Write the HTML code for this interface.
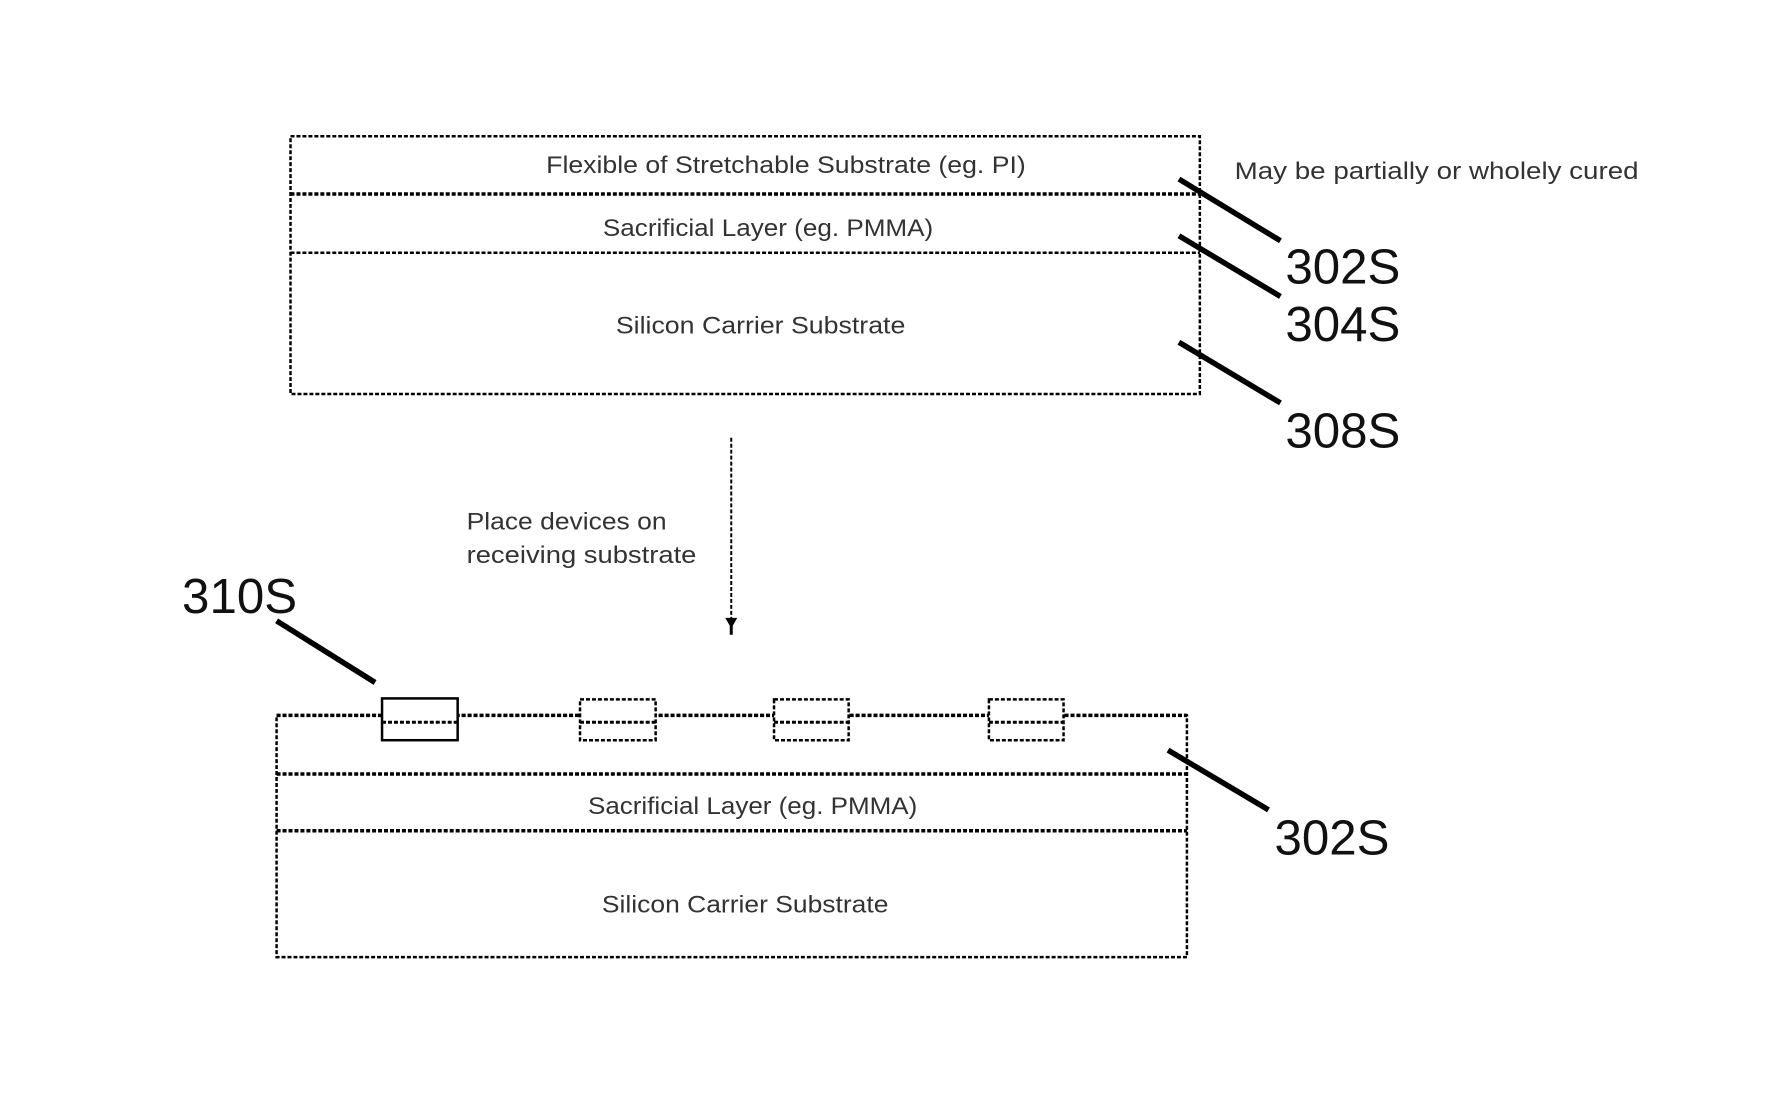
<!DOCTYPE html>
<html><head><meta charset="utf-8"><style>
html,body{margin:0;padding:0;background:#fff}
svg{display:block}
text{font-family:"Liberation Sans",sans-serif;fill:#000}
.t{font-size:24px;fill:#333}
.n{font-size:49.5px;fill:#111}
.d{fill:none;stroke:#000;stroke-width:2.5;stroke-dasharray:4 2}
.l{stroke:#000;stroke-width:5.5;fill:none}
</style></head><body>
<svg width="1784" height="1097" viewBox="0 0 1784 1097" xmlns="http://www.w3.org/2000/svg">
<rect width="1784" height="1097" fill="#fff"/>
<g transform="scale(0.9949)">
<rect class="d" x="292" y="137" width="914" height="259"/>
<path class="d" style="stroke-width:3.5" d="M292 195H1206"/>
<path class="d" d="M292 254H1206"/>
<text class="t" x="549" y="174" textLength="482" lengthAdjust="spacingAndGlyphs">Flexible of Stretchable Substrate (eg. PI)</text>
<text class="t" x="606" y="237" textLength="332" lengthAdjust="spacingAndGlyphs">Sacrificial Layer (eg. PMMA)</text>
<text class="t" x="619" y="335" textLength="291" lengthAdjust="spacingAndGlyphs">Silicon Carrier Substrate</text>
<text class="t" x="1241" y="180" textLength="406" lengthAdjust="spacingAndGlyphs">May be partially or wholely cured</text>
<path class="l" d="M1185 180L1287 242M1185 237L1287 298M1185 344L1287 405M278 624L377 686M1174 754L1275 814"/>
<text class="n" x="1292" y="285">302S</text>
<text class="n" x="1292" y="343">304S</text>
<text class="n" x="1292" y="450">308S</text>
<text class="n" x="183" y="616">310S</text>
<text class="n" x="1281" y="859">302S</text>
<path class="d" style="stroke-width:2" d="M735 440V622"/>
<path d="M729 621L741 621L736.5 629L736.5 638L733.5 638L733.5 629Z" fill="#000"/>
<text class="t" x="469" y="532" textLength="201" lengthAdjust="spacingAndGlyphs">Place devices on</text>
<text class="t" x="469" y="566" textLength="231" lengthAdjust="spacingAndGlyphs">receiving substrate</text>
<rect class="d" x="278" y="719" width="915" height="243"/>
<path class="d" style="stroke-width:3.5" d="M278 719H1193"/>
<path class="d" style="stroke-width:3.5" d="M278 778H1193"/>
<path class="d" style="stroke-width:3.5" d="M278 835H1193"/>
<text class="t" x="591" y="818" textLength="331" lengthAdjust="spacingAndGlyphs">Sacrificial Layer (eg. PMMA)</text>
<text class="t" x="605" y="917" textLength="288" lengthAdjust="spacingAndGlyphs">Silicon Carrier Substrate</text>
<rect class="d" style="fill:#fff;stroke-dasharray:none" x="384" y="702" width="76" height="42"/><path class="d" style="stroke-width:3" d="M384 726H460"/>
<rect class="d" style="fill:#fff" x="583" y="703" width="76" height="41"/><path class="d" style="stroke-width:3" d="M583 726H659"/>
<rect class="d" style="fill:#fff" x="778" y="703" width="75" height="41"/><path class="d" style="stroke-width:3" d="M778 726H853"/>
<rect class="d" style="fill:#fff" x="994" y="703" width="75" height="41"/><path class="d" style="stroke-width:3" d="M994 726H1069"/>
</g>
</svg>
</body></html>
